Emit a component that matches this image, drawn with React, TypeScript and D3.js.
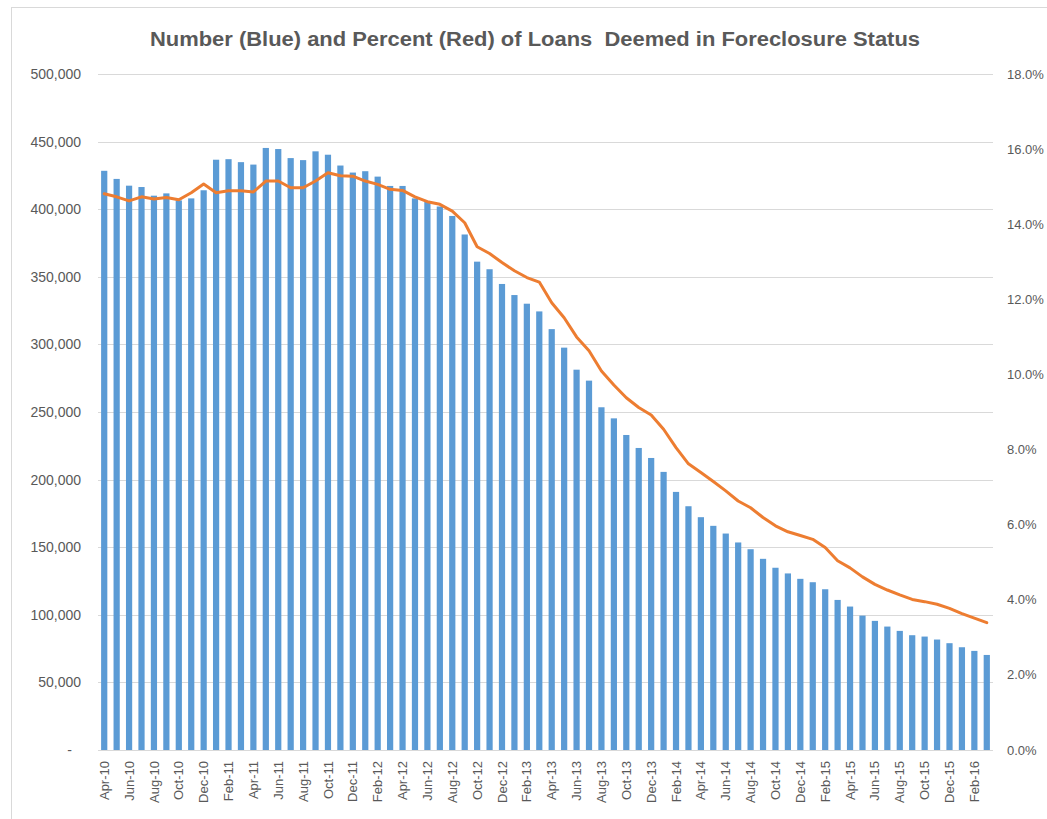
import React from "react";
import * as d3 from "d3";

const months: string[] = [
  "Apr-10","May-10","Jun-10","Jul-10","Aug-10","Sep-10","Oct-10","Nov-10","Dec-10","Jan-11","Feb-11","Mar-11",
  "Apr-11","May-11","Jun-11","Jul-11","Aug-11","Sep-11","Oct-11","Nov-11","Dec-11","Jan-12","Feb-12","Mar-12",
  "Apr-12","May-12","Jun-12","Jul-12","Aug-12","Sep-12","Oct-12","Nov-12","Dec-12","Jan-13","Feb-13","Mar-13",
  "Apr-13","May-13","Jun-13","Jul-13","Aug-13","Sep-13","Oct-13","Nov-13","Dec-13","Jan-14","Feb-14","Mar-14",
  "Apr-14","May-14","Jun-14","Jul-14","Aug-14","Sep-14","Oct-14","Nov-14","Dec-14","Jan-15","Feb-15","Mar-15",
  "Apr-15","May-15","Jun-15","Jul-15","Aug-15","Sep-15","Oct-15","Nov-15","Dec-15","Jan-16","Feb-16","Mar-16",
];

const loansInForeclosure: number[] = [
  428400, 422400, 417400, 416400, 410000, 411700, 406500, 408000, 414000, 436600, 437000, 434800,
  433000, 445300, 444500, 437800, 436300, 442800, 440300, 432300, 427100, 428100, 424100, 417200,
  417200, 408000, 405500, 402000, 395000, 381300, 361200, 355600, 344700, 336500, 330100, 324400,
  311300, 297600, 281300, 273200, 253500, 245300, 233000, 223400, 216000, 205700, 190900, 180300,
  172200, 165800, 160100, 153500, 148500, 141400, 134800, 130600, 126600, 124100, 118900, 111000,
  106100, 99400, 95500, 91300, 88100, 84900, 83900, 81700, 79000, 76000, 73300, 70300,
];

const percentInForeclosure: number[] = [
  14.81, 14.73, 14.62, 14.73, 14.67, 14.71, 14.65, 14.84, 15.07, 14.84, 14.89, 14.89,
  14.86, 15.15, 15.15, 14.97, 14.97, 15.15, 15.37, 15.29, 15.28, 15.15, 15.06, 14.93,
  14.9, 14.73, 14.6, 14.53, 14.35, 14.04, 13.4, 13.22, 12.98, 12.76, 12.58, 12.46,
  11.91, 11.51, 11.0, 10.63, 10.09, 9.72, 9.38, 9.12, 8.92, 8.54, 8.05, 7.62,
  7.39, 7.15, 6.9, 6.63, 6.45, 6.19, 5.97, 5.81, 5.71, 5.61, 5.39, 5.04,
  4.85, 4.61, 4.41, 4.26, 4.13, 4.01, 3.95, 3.88, 3.77, 3.63, 3.51, 3.39,
];

const leftTicks: number[] = [0, 50000, 100000, 150000, 200000, 250000, 300000, 350000, 400000, 450000, 500000];
const rightTicks: number[] = [0, 2, 4, 6, 8, 10, 12, 14, 16, 18];

const TITLE = "Number (Blue) and Percent (Red) of Loans  Deemed in Foreclosure Status";

export default function App() {
  const W = 1047, H = 819;
  const left = 98, right = 993, top = 74, bottom = 750;
  const font = "'Liberation Sans', Arial, sans-serif";
  const textColor = "#595959";

  const x = d3.scaleBand<string>().domain(months).range([left, right]).paddingInner(0.5).paddingOuter(0.25);
  const yL = d3.scaleLinear().domain([0, 500000]).range([bottom, top]);
  const yR = d3.scaleLinear().domain([0, 18]).range([bottom, top]);
  const fmt = d3.format(",");

  const line = d3
    .line<number>()
    .x((_, i) => (x(months[i]) as number) + x.bandwidth() / 2)
    .y((d) => yR(d));

  return (
    <svg
      width={W}
      height={H}
      style={{ position: "absolute", left: 0, top: 0, background: "#fff" }}
    >
      <rect x={0} y={0} width={W} height={H} fill="#fff" />
      <rect x={11.5} y={7.5} width={1200} height={1000} fill="none" stroke="#D9D9D9" strokeWidth={1} />
      <text
        x={535}
        y={46}
        textAnchor="middle"
        fontFamily={font}
        fontWeight="bold"
        fontSize={20}
        fill={textColor}
        textLength={770}
        lengthAdjust="spacingAndGlyphs"
        style={{ whiteSpace: "pre" }}
      >
        {TITLE}
      </text>
      {leftTicks.map((t) => (
        <line key={"g" + t} x1={left} x2={right} y1={Math.round(yL(t)) + 0.5} y2={Math.round(yL(t)) + 0.5} stroke="#D9D9D9" strokeWidth={1} />
      ))}
      {leftTicks.map((t) => (
        <text
          key={"l" + t}
          x={t === 0 ? 72 : 81}
          y={yL(t)}
          dy="0.35em"
          textAnchor="end"
          fontFamily={font}
          fontSize={14}
          fill={textColor}
        >
          {t === 0 ? "-" : fmt(t)}
        </text>
      ))}
      {rightTicks.map((t) => (
        <text
          key={"r" + t}
          x={1007}
          y={yR(t)}
          dy="0.35em"
          textAnchor="start"
          fontFamily={font}
          fontSize={13}
          fill={textColor}
        >
          {t.toFixed(1) + "%"}
        </text>
      ))}
      {loansInForeclosure.map((v, i) => (
        <rect
          key={"b" + i}
          x={x(months[i])}
          y={yL(v)}
          width={x.bandwidth()}
          height={bottom - yL(v)}
          fill="#5B9BD5"
        />
      ))}
      <path
        d={line(percentInForeclosure) || ""}
        fill="none"
        stroke="#ED7D31"
        strokeWidth={3}
        strokeLinejoin="round"
        strokeLinecap="round"
      />
      {months.map((m, i) =>
        i % 2 === 0 ? (
          <text
            key={"x" + m}
            transform={`translate(${(x(m) as number) + x.bandwidth() / 2},761) rotate(-90)`}
            dy="0.35em"
            textAnchor="end"
            fontFamily={font}
            fontSize={13}
            fill={textColor}
          >
            {m}
          </text>
        ) : null
      )}
    </svg>
  );
}
